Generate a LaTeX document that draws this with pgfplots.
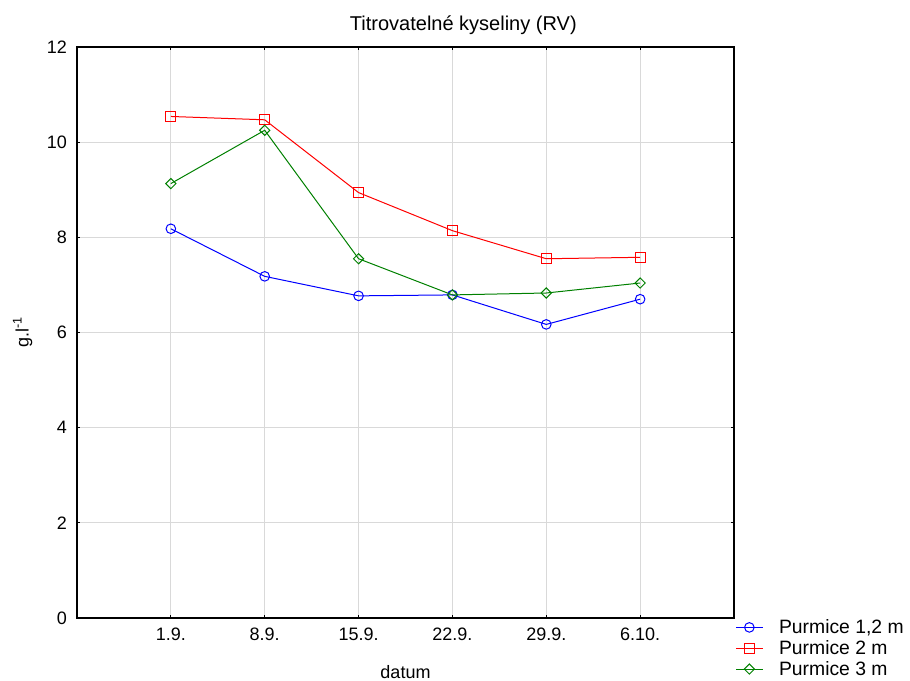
\documentclass[border=0pt]{standalone}
\usepackage{pgfplots}
\pgfplotsset{compat=1.18}
\usepackage{fontspec}
\setmainfont{Liberation Sans}
\begin{document}
\begin{tikzpicture}
\path[use as bounding box] (-57.75pt,-47.25pt) rectangle (624.75pt,463.5pt);
\begin{axis}[
  at={(0,0)}, anchor=south west,
  scale only axis, width=492.75pt, height=428.25pt,
  xmin=0, xmax=7, ymin=0, ymax=12,
  xtick={1,2,3,4,5,6},
  xticklabels={1.9.,8.9.,15.9.,22.9.,29.9.,6.10.},
  ytick={0,2,4,6,8,10,12},
  /pgf/number format/assume math mode=true,
  tick label style={font=\fontsize{13.5}{15}\selectfont},
  xticklabel style={yshift=-4pt},
  yticklabel style={xshift=-4pt},
  label style={font=\fontsize{13.5}{15}\selectfont},
  tick align=inside, major tick length=2.5pt,
  tick style={black, line width=0.8pt},
  axis line style={black, line width=0.8pt},
  grid=major, grid style={gray!30, line width=0.6pt},
  xlabel={datum}, ylabel={g.l\textsuperscript{-1}},
  xlabel style={yshift=-12pt},
  ylabel style={yshift=4pt},
  title={Titrovatelné kyseliny (RV)},
  title style={font=\fontsize{15}{17}\selectfont, at={(0.588,1)}, yshift=0pt},
  legend style={at={(1.0,0.005)}, anchor=north west, draw=none, fill=none,
    font=\fontsize{14.5}{16}\selectfont, row sep=-0.4pt, inner sep=1pt},
  legend cell align=left,
  legend image code/.code={\draw[mark repeat=2,mark phase=2] plot coordinates {(0.1cm,0cm) (0.45cm,0cm) (0.8cm,0cm)}; \path (1.15cm,0cm);},
]
\addplot[red!0!blue, line width=0.75pt, mark=o, mark size=3.6pt, mark options={solid, draw=blue}] coordinates {
 (1,8.18) (2,7.18) (3,6.77) (4,6.79) (5,6.17) (6,6.70)};
\addlegendentry{Purmice 1,2 m}
\addplot[red, line width=0.75pt, mark=square, mark size=3.7pt, mark options={solid, draw=red}] coordinates {
 (1,10.54) (2,10.47) (3,8.94) (4,8.14) (5,7.55) (6,7.58)};
\addlegendentry{Purmice 2 m}
\addplot[green!50!black, line width=0.75pt, mark=square, mark size=2.7pt, mark options={solid, rotate=45, draw=green!50!black}] coordinates {
 (1,9.13) (2,10.25) (3,7.55) (4,6.79) (5,6.83) (6,7.04)};
\addlegendentry{Purmice 3 m}
\end{axis}
\end{tikzpicture}
\end{document}
